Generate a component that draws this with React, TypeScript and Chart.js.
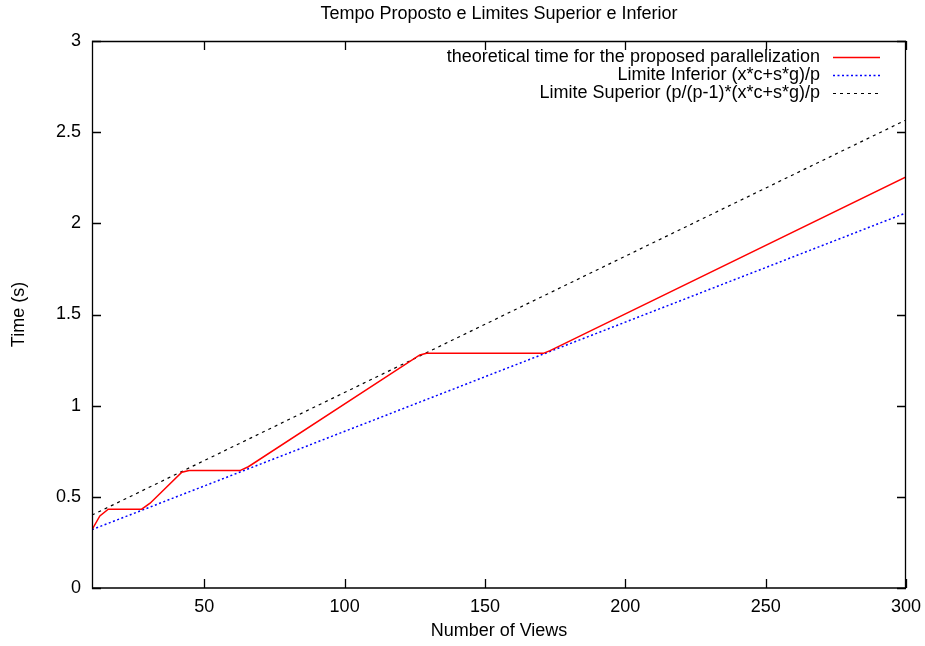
import React, { useEffect, useRef } from "react";
import { Chart, registerables } from "chart.js";

Chart.register(...registerables);

const TITLE = "Tempo Proposto e Limites Superior e Inferior";
const X_TITLE = "Number of Views";
const Y_TITLE = "Time (s)";

const X_TICKS = [50, 100, 150, 200, 250, 300];
const Y_TICKS = [0, 0.5, 1, 1.5, 2, 2.5, 3];

const LABEL_PROPOSED = "theoretical time for the proposed parallelization";
const LABEL_LOWER = "Limite Inferior (x*c+s*g)/p";
const LABEL_UPPER = "Limite Superior (p/(p-1)*(x*c+s*g)/p";

const proposedX = [10, 12.8, 15.8, 27.7, 30.7, 42.0, 44.6, 62.7, 65.7, 126.8, 129.2, 170.8, 173.2, 300];
const proposedY = [0.32, 0.395, 0.432, 0.432, 0.465, 0.635, 0.644, 0.644, 0.665, 1.278, 1.287, 1.287, 1.302, 2.254];

const lowerX = [10, 300];
const lowerY = [0.32, 2.057];

const upperX = [10, 300];
const upperY = [0.4, 2.567];

const FONT = "'Liberation Sans', Arial, Helvetica, sans-serif";
const FS = 18;

const toPts = (xs: number[], ys: number[]) => xs.map((x, i) => ({ x, y: ys[i] }));

const framePlugin = {
  id: "gnuplotFrame",
  afterDraw(chart: any) {
    const { ctx, chartArea } = chart;
    const { left, right, top, bottom } = chartArea;
    const xs = chart.scales.x;
    const ys = chart.scales.y;
    ctx.save();
    ctx.strokeStyle = "#000";
    ctx.lineWidth = 1.3;
    ctx.beginPath();
    ctx.rect(left + 0.5, top + 0.5, right - left - 1, bottom - top - 0.5);
    ctx.stroke();
    const tl = 9;
    ctx.beginPath();
    X_TICKS.forEach((v) => {
      const px = Math.round(xs.getPixelForValue(v)) + 0.5;
      ctx.moveTo(px, bottom);
      ctx.lineTo(px, bottom - tl);
      ctx.moveTo(px, top);
      ctx.lineTo(px, top + tl);
    });
    Y_TICKS.forEach((v) => {
      const py = Math.round(ys.getPixelForValue(v)) + 0.5;
      ctx.moveTo(left, py);
      ctx.lineTo(left + tl, py);
      ctx.moveTo(right, py);
      ctx.lineTo(right - tl, py);
    });
    ctx.stroke();

    ctx.fillStyle = "#000";
    ctx.font = `${FS}px ${FONT}`;
    ctx.textAlign = "center";
    ctx.textBaseline = "middle";
    ctx.fillText(TITLE, (left + right) / 2, 14);
    ctx.fillText(X_TITLE, (left + right) / 2, 631);
    ctx.save();
    ctx.translate(19, (top + bottom) / 2);
    ctx.rotate(-Math.PI / 2);
    ctx.fillText(Y_TITLE, 0, 0);
    ctx.restore();

    // legend
    const items = [
      { label: LABEL_PROPOSED, color: "#ff0000", dash: [] as number[], w: 1.5 },
      { label: LABEL_LOWER, color: "#0000ff", dash: [2, 2.5], w: 1.5 },
      { label: LABEL_UPPER, color: "#000000", dash: [3, 4], w: 1.2 },
    ];
    ctx.textAlign = "right";
    items.forEach((it, i) => {
      const y = 57 + i * 18;
      ctx.fillStyle = "#000";
      ctx.fillText(it.label, 820, y);
      ctx.strokeStyle = it.color;
      ctx.lineWidth = it.w;
      ctx.setLineDash(it.dash);
      ctx.beginPath();
      ctx.moveTo(833, y + 0.5);
      ctx.lineTo(880, y + 0.5);
      ctx.stroke();
      ctx.setLineDash([]);
    });
    ctx.restore();
  },
};

export default function App() {
  const ref = useRef<HTMLCanvasElement | null>(null);
  useEffect(() => {
    if (!ref.current) return;
    const chart = new Chart(ref.current, {
      type: "line",
      data: {
        datasets: [
          {
            label: LABEL_PROPOSED,
            data: toPts(proposedX, proposedY),
            borderColor: "#ff0000",
            borderWidth: 1.5,
            pointRadius: 0,
            tension: 0,
          },
          {
            label: LABEL_LOWER,
            data: toPts(lowerX, lowerY),
            borderColor: "#0000ff",
            borderWidth: 1.5,
            borderDash: [2, 2.5],
            pointRadius: 0,
            tension: 0,
          },
          {
            label: LABEL_UPPER,
            data: toPts(upperX, upperY),
            borderColor: "#000000",
            borderWidth: 1.2,
            borderDash: [3, 4],
            pointRadius: 0,
            tension: 0,
          },
        ],
      },
      options: {
        animation: false,
        responsive: false,
        maintainAspectRatio: false,
        layout: { padding: { left: 0, right: 19, top: 41, bottom: 0 } },
        plugins: {
          legend: { display: false },
          title: { display: false },
          tooltip: { enabled: false },
        },
        scales: {
          x: {
            type: "linear",
            min: 10,
            max: 300,
            grid: { display: false },
            border: { display: false },
            afterFit: (s: any) => {
              s.height = 58;
            },
            afterBuildTicks: (s: any) => {
              s.ticks = X_TICKS.map((v) => ({ value: v }));
            },
            ticks: {
              color: "#000",
              font: { family: FONT, size: FS },
              padding: 0,
              maxRotation: 0,
            },
          },
          y: {
            type: "linear",
            min: 0,
            max: 3,
            grid: { display: false },
            border: { display: false },
            afterFit: (s: any) => {
              s.width = 92;
            },
            afterBuildTicks: (s: any) => {
              s.ticks = Y_TICKS.map((v) => ({ value: v }));
            },
            ticks: {
              color: "#000",
              font: { family: FONT, size: FS },
              padding: 3,
              callback: (v: any) => String(v),
            },
          },
        },
      },
      plugins: [framePlugin],
    });
    return () => chart.destroy();
  }, []);
  return (
    <div style={{ position: "fixed", left: 0, top: 0, width: 925, height: 646, background: "#fff" }}>
      <canvas ref={ref} width={925} height={646} style={{ width: 925, height: 646 }} />
    </div>
  );
}
